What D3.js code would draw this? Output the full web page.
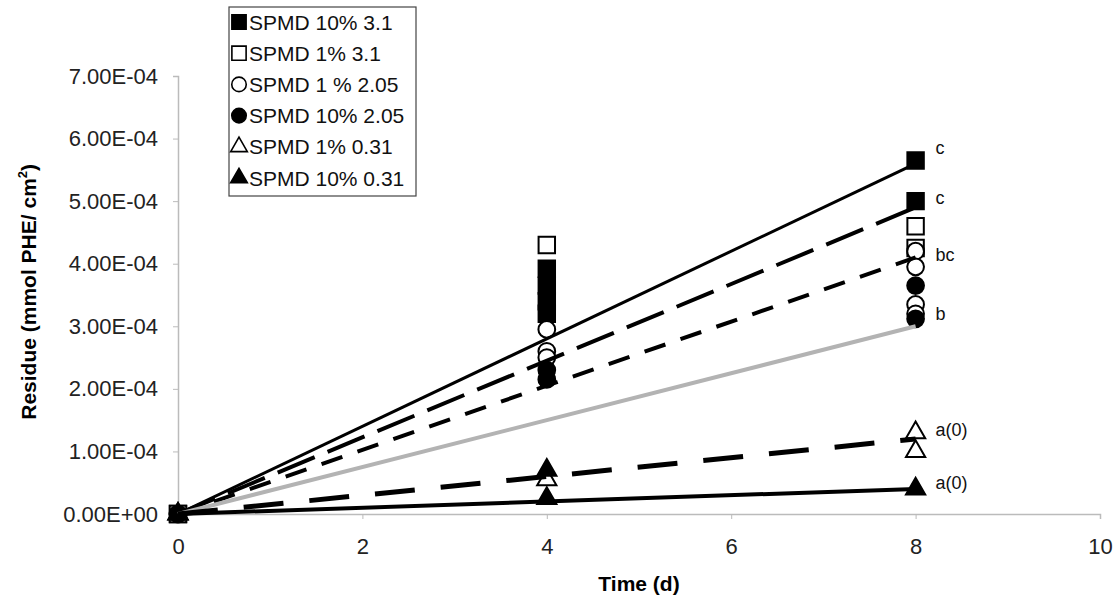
<!DOCTYPE html>
<html><head><meta charset="utf-8">
<script src="https://cdn.jsdelivr.net/npm/d3@7"></script>
<style>
html,body{margin:0;padding:0;background:#fff;}
text{font-family:"Liberation Sans",Arial,sans-serif;}
</style></head>
<body>
<svg id="chart" width="1116" height="599"></svg>
<script>
// ---------- data ----------
const seriesNames = ["SPMD 10% 3.1","SPMD 1% 3.1","SPMD 1 % 2.05","SPMD 10% 2.05","SPMD 1% 0.31","SPMD 10% 0.31"];
const times = [0, 4, 8];
// replicate values per time (mmol PHE/cm2)
const spmd10_31  = [[0], [3.92e-4, 3.65e-4, 3.4e-4, 3.2e-4], [5.65e-4, 5.0e-4]];
const spmd1_31   = [[0], [4.3e-4], [4.6e-4, 4.25e-4]];
const spmd1_205  = [[0], [2.95e-4, 2.6e-4, 2.5e-4], [4.2e-4, 3.95e-4, 3.35e-4, 3.2e-4]];
const spmd10_205 = [[0], [2.3e-4, 2.15e-4], [3.65e-4, 3.12e-4]];
const spmd1_031  = [[0], [5.5e-5], [1.3e-4, 1.0e-4]];
const spmd10_031 = [[0], [7.0e-5, 2.5e-5], [4.0e-5]];
// linear trend (through origin) value reached at day 8
const trendAt8 = [5.6e-4, 4.9e-4, 4.1e-4, 3.0e-4, 1.2e-4, 4.0e-5];
// significance letters at day 8
const sigLabels = ["c","c","bc","b","a(0)","a(0)"];
const sigValues = [5.85e-4, 5.05e-4, 4.15e-4, 3.2e-4, 1.35e-4, 5.0e-5];
const xTicks = [0, 2, 4, 6, 8, 10];
const yTicks = [0, 1e-4, 2e-4, 3e-4, 4e-4, 5e-4, 6e-4, 7e-4];
const yTickLabels = ["0.00E+00","1.00E-04","2.00E-04","3.00E-04","4.00E-04","5.00E-04","6.00E-04","7.00E-04"];

// ---------- styles ----------
const allSeries = [spmd10_31, spmd1_31, spmd1_205, spmd10_205, spmd1_031, spmd10_031];
const markerShape = [d3.symbolSquare, d3.symbolSquare, d3.symbolCircle, d3.symbolCircle, d3.symbolTriangle, d3.symbolTriangle];
const markerFill = ["#000","#fff","#fff","#000","#fff","#000"];
const markerSize = [270, 270, 220, 220, 160, 160];
const lineColor = ["#000","#000","#000","#b3b3b3","#000","#000"];
const lineWidth = [3, 4, 4, 4, 5, 4];
const lineDash = [null, "40,14", "22,16", null, "40,26", null];

const svg = d3.select("#chart");
const x = d3.scaleLinear().domain([0, 10]).range([178, 1100]);
const y = d3.scaleLinear().domain([0, 7e-4]).range([514, 76]);

// axes
const xAxis = svg.append("g").attr("transform", `translate(0,${y(0)})`)
  .call(d3.axisBottom(x).tickValues(xTicks).tickSize(5).tickPadding(19).tickFormat(d3.format("d")));
const yAxis = svg.append("g").attr("transform", `translate(${x(0)},0)`)
  .call(d3.axisLeft(y).tickValues(yTicks).tickSize(5).tickPadding(15).tickFormat((d,i)=>yTickLabels[i]));
[xAxis, yAxis].forEach(g => {
  g.select(".domain").attr("stroke", "#bbb").attr("stroke-width", 1.5);
  g.selectAll(".tick line").attr("stroke", "#bbb");
  g.selectAll(".tick text").attr("font-size", 22).attr("fill", "#222")
    .attr("font-family", '"Liberation Sans",Arial,sans-serif');
});

// markers
allSeries.forEach((ser, si) => {
  const pts = [];
  ser.forEach((vals, ti) => vals.forEach(v => pts.push([times[ti], v])));
  svg.append("g").selectAll("path").data(pts).join("path")
    .attr("transform", d => `translate(${x(d[0])},${y(d[1])})`)
    .attr("d", d3.symbol().type(markerShape[si]).size(markerSize[si]))
    .attr("fill", markerFill[si]).attr("stroke", "#000").attr("stroke-width", 2);
});

// trend lines
const line = d3.line().x(d => x(d[0])).y(d => y(d[1]));
trendAt8.forEach((v, i) => {
  svg.append("path").datum([[0, 0], [8, v]])
    .attr("d", line).attr("fill", "none")
    .attr("stroke", lineColor[i]).attr("stroke-width", lineWidth[i])
    .attr("stroke-dasharray", lineDash[i]);
});

// significance letters
svg.append("g").selectAll("text").data(sigLabels).join("text")
  .attr("x", x(8) + 20).attr("y", (d, i) => y(sigValues[i]))
  .attr("dy", "0.35em").attr("font-size", 18).attr("fill", "#111")
  .text(d => d);

// axis titles
svg.append("text").attr("x", (x(0) + x(10)) / 2).attr("y", 591)
  .attr("text-anchor", "middle").attr("font-size", 21).attr("font-weight", "bold")
  .text("Time (d)");
const yt = svg.append("text").attr("transform", `translate(36,${y(3.55e-4)}) rotate(-90)`)
  .attr("text-anchor", "middle").attr("font-size", 21).attr("font-weight", "bold");
yt.append("tspan").text("Residue (mmol PHE/ cm");
yt.append("tspan").attr("font-size", 13).attr("dy", -9).text("2");
yt.append("tspan").attr("dy", 9).text(")");

// legend
const lg = svg.append("g");
lg.append("rect").attr("x", 229).attr("y", 7).attr("width", 187).attr("height", 189)
  .attr("fill", "#fff").attr("stroke", "#444").attr("stroke-width", 1.2);
const rowY = d3.scaleLinear().domain([0, 5]).range([22, 178]);
seriesNames.forEach((name, i) => {
  lg.append("path").attr("transform", `translate(239,${rowY(i)})`)
    .attr("d", d3.symbol().type(markerShape[i]).size(markerSize[i] * 0.75))
    .attr("fill", markerFill[i]).attr("stroke", "#000").attr("stroke-width", 1.6);
  lg.append("text").attr("x", 249).attr("y", rowY(i)).attr("dy", "0.36em")
    .attr("font-size", 21).attr("fill", "#111").text(name);
});
</script>
</body></html>
